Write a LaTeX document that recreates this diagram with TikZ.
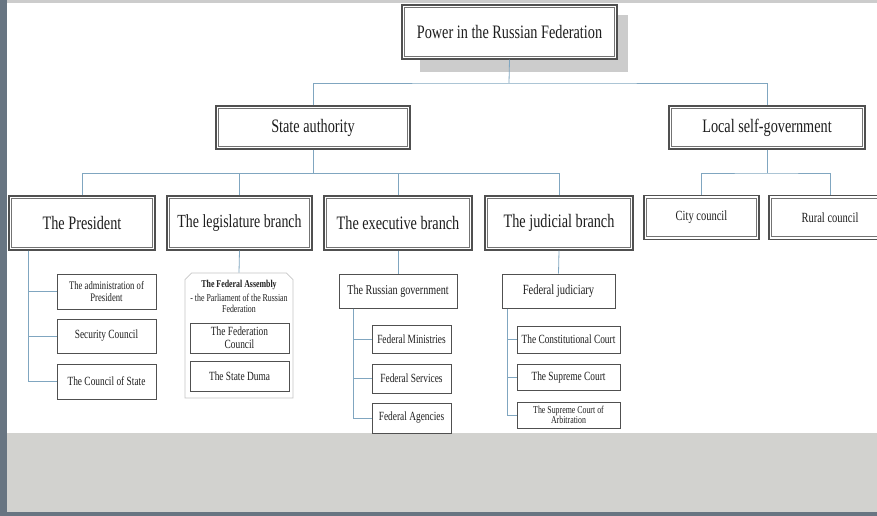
\documentclass[tikz,border=0pt]{standalone}
\usepackage{fontspec}
\usetikzlibrary{shapes.misc}

\newfontfamily\boxfont[FakeStretch=0.75]{Liberation Serif}

\definecolor{boxgray}{RGB}{80,80,80}
\definecolor{linkblue}{RGB}{128,166,192}
\definecolor{stripgray}{RGB}{104,117,130}
\definecolor{bandgray}{RGB}{210,210,207}
\definecolor{textgray}{RGB}{30,30,30}

\tikzset{
    headbox/.style={draw=boxgray, line width=1.3pt, fill=white, text=textgray, inner sep=0pt,
        font=\boxfont\fontsize{19}{22}\selectfont,
        path picture={\draw[boxgray!80, line width=0.7pt]
            ([shift={(2.8pt,-2.8pt)}]path picture bounding box.north west) rectangle
            ([shift={(-2.8pt,2.8pt)}]path picture bounding box.south east);}},
    midbox/.style={draw=boxgray, line width=1pt, fill=white, text=textgray, inner sep=0pt,
        align=center, font=\boxfont\fontsize{14}{15}\selectfont},
    leafbox/.style={draw=boxgray, line width=1pt, fill=white, text=textgray, inner sep=0pt,
        align=center, font=\boxfont\fontsize{12.5}{13}\selectfont},
    link/.style={draw=linkblue, line width=0.8pt}
}

\begin{document}
\begin{tikzpicture}[x=1pt, y=-1pt]

    % canvas
    \useasboundingbox (0,0) rectangle (877,516);
    \fill[white] (0,0) rectangle (877,516);
    \fill[gray!40] (0,0) rectangle (877,3);
    \fill[bandgray] (0,433) rectangle (877,512);
    \fill[stripgray] (0,512) rectangle (877,516);
    \fill[stripgray] (0,0) rectangle (7,516);

    \coordinate (bus0) at (509,83);
    \coordinate (bus1) at (313,173);
    \coordinate (bus2) at (767,173);

    \coordinate (pspine) at (28,0);
    \coordinate (gspine) at (353,0);
    \coordinate (jspine) at (507,0);

    % top levels
    \fill[black!20] (420,15) rectangle (628,72);
    \node[headbox, minimum width=215, minimum height=54] (power) at (509.5,32) {Power in the Russian Federation};
    \node[headbox, minimum width=194, minimum height=43] (state) at (313,127.5) {State authority};
    \node[headbox, minimum width=196, minimum height=43] (local) at (767,127.5) {Local self-government};

    \node[headbox, minimum width=146, minimum height=54] (pres) at (82,223) {The President};
    \node[headbox, minimum width=145, minimum height=54, font=\boxfont\fontsize{18.5}{22}\selectfont]
        (legis) at (239.5,223) {The legislature branch};
    \node[headbox, minimum width=148, minimum height=54] (exec) at (398,223) {The executive branch};
    \node[headbox, minimum width=148, minimum height=54] (judi) at (559,223) {The judicial branch};

    \node[headbox, minimum width=115, minimum height=44, font=\boxfont\fontsize{14}{15}\selectfont]
        (city) at (701.5,217.5) {City council};
    \node[headbox, minimum width=122, minimum height=44, font=\boxfont\fontsize{14}{15}\selectfont]
        (rural) at (830,217.5) {Rural council};

    % president
    \node[leafbox, minimum width=99, minimum height=35, font=\boxfont\fontsize{11.5}{12.5}\selectfont]
        (adm) at (106.5,291.5) {The administration of\\President};
    \node[leafbox, minimum width=99, minimum height=34] (secu) at (106.5,336) {Security Council};
    \node[leafbox, minimum width=99, minimum height=35] (cstate) at (106.5,381.5) {The Council of State};

    % legislature
    \node[chamfered rectangle, chamfered rectangle corners={north west,north east},
        chamfered rectangle xsep=8pt, chamfered rectangle ysep=8pt,
        draw=gray!45, line width=0.8pt, minimum width=108, minimum height=125]
        (assem) at (239,335.5) {};
    \node[align=center, text=textgray, inner sep=0pt, font=\boxfont\fontsize{10.5}{10.5}\selectfont]
        (asmtitle) at (239,296) {\bfseries The Federal Assembly\\[4pt]- the Parliament of the Russian\\Federation};
    \node[leafbox, minimum width=99, minimum height=30] (fcoun) at (239.5,338) {The Federation\\Council};
    \node[leafbox, minimum width=99, minimum height=30] (sduma) at (239.5,376) {The State Duma};

    % executive
    \node[midbox, minimum width=118, minimum height=34, font=\boxfont\fontsize{13.5}{14}\selectfont]
        (govt) at (398,291) {The Russian government};
    \node[leafbox, minimum width=79, minimum height=28] (fmin) at (411.5,339) {Federal Ministries};
    \node[leafbox, minimum width=79, minimum height=29] (fserv) at (411.5,378.5) {Federal Services};
    \node[leafbox, minimum width=79, minimum height=30] (fagen) at (411.5,418) {Federal Agencies};

    % judicial
    \node[midbox, minimum width=113, minimum height=34] (fjud) at (558.5,291) {Federal judiciary};
    \node[leafbox, minimum width=103, minimum height=27] (ccourt) at (568.5,339.5) {The Constitutional Court};
    \node[leafbox, minimum width=103, minimum height=26] (scourt) at (568.5,377) {The Supreme Court};
    \node[leafbox, minimum width=103, minimum height=26, font=\boxfont\fontsize{10.5}{10.5}\selectfont]
        (acourt) at (568.5,415) {The Supreme Court of\\Arbitration};

    % connectors
    \draw[link] (power.south) -- (bus0);
    \draw[link] (state.north) |- (bus0) -| (local.north);

    \draw[link] (state.south) -- (bus1);
    \draw[link] (pres.north |- bus1) -- (judi.north |- bus1);
    \foreach \b in {pres,legis,exec,judi}
        \draw[link] (\b.north) -- (\b.north |- bus1);

    \draw[link] (local.south) -- (bus2);
    \draw[link] (city.north) |- (bus2) -| (rural.north);

    \foreach \c in {adm,secu,cstate}
        \draw[link] (pres.south -| pspine) |- (\c.west);

    \draw[link] (legis.south) -- (assem.north);

    \draw[link] (exec.south) -- (govt.north);
    \foreach \c in {fmin,fserv,fagen}
        \draw[link] (govt.south -| gspine) |- (\c.west);

    \draw[link] (judi.south) -- (fjud.north);
    \foreach \c in {ccourt,scourt,acourt}
        \draw[link] (fjud.south -| jspine) |- (\c.west);

\end{tikzpicture}
\end{document}
